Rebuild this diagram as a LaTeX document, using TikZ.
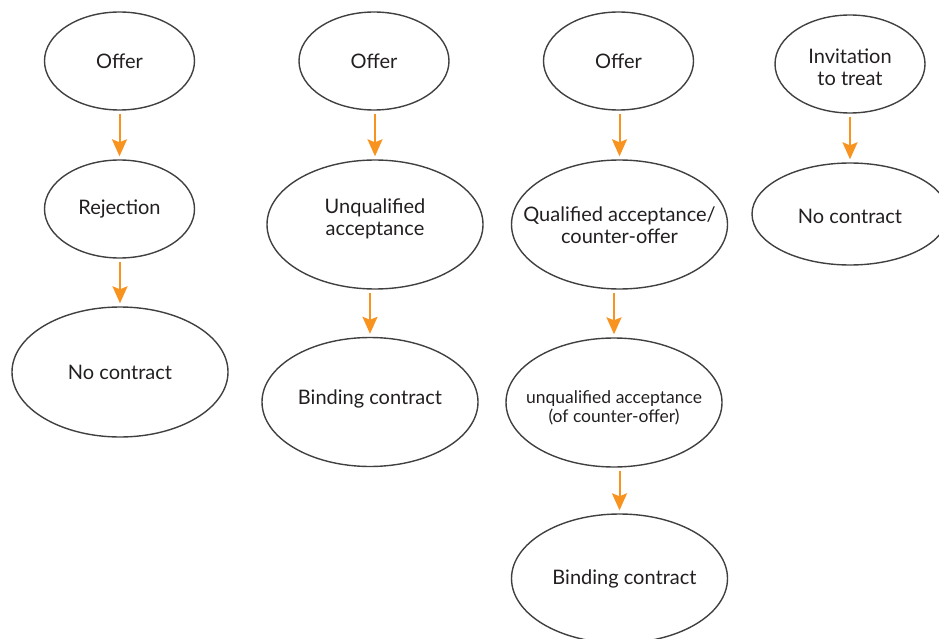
\documentclass[tikz,border=0pt]{standalone}
\usepackage{fontspec}
\setmainfont{Lato}
\usetikzlibrary{shapes.geometric,arrows.meta}
\definecolor{edgegrey}{HTML}{404040}
\definecolor{arrorange}{HTML}{F7931E}
\definecolor{txtgrey}{HTML}{231F20}
\begin{document}
\begin{tikzpicture}[x=1pt,y=-1pt,
  oval/.style={ellipse, draw=edgegrey, line width=1.4pt, inner sep=0pt},
  smalloval/.style={oval, minimum width=150pt, minimum height=98pt},
  bigoval/.style={oval, minimum width=216pt, minimum height=129pt},
  txt/.style={font=\fontsize{20}{22}\selectfont, text=txtgrey, align=center},
  smalltxt/.style={font=\fontsize{17.5}{19}\selectfont, text=txtgrey, align=center},
  arr/.style={draw=arrorange, line width=2pt, -{Stealth[length=17pt,width=15pt,inset=3pt]}, shorten <=3pt, shorten >=3pt}]
\useasboundingbox (0,0) rectangle (939,639);
% column 1
\node[smalloval, label={[txt]center:Offer}] (o1) at (119.5,61) {};
\node[smalloval, label={[txt]center:Rejection}] (r1) at (119.5,209) {};
\node[bigoval, minimum height=130pt, label={[txt]center:No contract}] (n1) at (120,372) {};
% column 2
\node[smalloval, label={[txt]center:Offer}] (o2) at (374,61) {};
\node[bigoval, label={[txt,yshift=6pt]center:Unqualified\\acceptance}] (u2) at (375,224.5) {};
\node[bigoval, label={[txt,yshift=3pt]center:Binding contract}] (b2) at (370,402) {};
% column 3
\node[smalloval, label={[txt]center:Offer}] (o3) at (618.5,61) {};
\node[bigoval, label={[txt,yshift=-1pt]center:Qualified acceptance/\\counter-offer}] (q3) at (619.5,224.5) {};
\node[bigoval, label={[smalltxt,yshift=-5pt]center:unqualified acceptance\\(of counter-offer)}] (u3) at (614,402.5) {};
\node[bigoval, label={[txt,xshift=5pt]center:Binding contract}] (b3) at (619.5,578.5) {};
% column 4
\node[smalloval, label={[txt,yshift=-3pt]center:Invitation\\to treat}] (i4) at (850,64) {};
\node[oval, minimum width=196pt, minimum height=102pt, label={[txt,yshift=-2pt]center:No contract}] (n4) at (850,214) {};
% arrows
\draw[arr] (o1.south -| r1.north) -- (r1.north);
\draw[arr] (r1.south -| n1.north) -- (n1.north);
\draw[arr] (o2.south -| u2.north) -- (u2.north);
\draw[arr] (u2.south -| b2.north) -- (b2.north);
\draw[arr] (o3.south -| q3.north) -- (q3.north);
\draw[arr] (q3.south -| u3.north) -- (u3.north);
\draw[arr] (u3.south -| b3.north) -- (b3.north);
\draw[arr] (i4.south -| n4.north) -- (n4.north);
\end{tikzpicture}
\end{document}
